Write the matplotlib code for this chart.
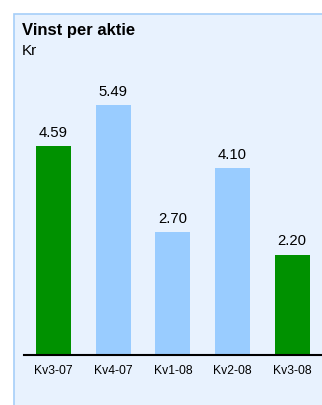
import matplotlib
matplotlib.use("Agg")
import matplotlib.pyplot as plt
from matplotlib.patches import Rectangle

categories = ["Kv3-07", "Kv4-07", "Kv1-08", "Kv2-08", "Kv3-08"]
values = [4.59, 5.49, 2.70, 4.10, 2.20]
highlight = [True, False, False, False, True]
title = "Vinst per aktie"
unit = "Kr"

plt.rcParams["font.family"] = ["Liberation Sans", "DejaVu Sans"]
W, H = 322, 406
fig = plt.figure(figsize=(W / 100, H / 100), dpi=100)
fig.patch.set_facecolor("white")

# panel background
fig.patches.append(Rectangle((13.5 / W, -0.01), 1.0, (H - 14.5) / H + 0.01,
                             transform=fig.transFigure, facecolor="#E8F2FE",
                             edgecolor="#A6CEF8", linewidth=1.2, zorder=-5))

fig.text(22 / W, 1 - 30.5 / H, title, fontsize=12, fontweight="bold",
         va="center", ha="left", color="black")
fig.text(22 / W, 1 - 51 / H, unit, fontsize=11, va="center", ha="left",
         color="black")

ax_bottom = (H - 355.7) / H
ax_top_px = 60
ax = fig.add_axes([23.7 / W, ax_bottom, (W - 23.7) / W, (355.7 - ax_top_px) / H])
ax.set_zorder(2)
ax.set_facecolor("none")
ymax = (355.7 - ax_top_px) / 45.47
x = list(range(len(categories)))
colors = ["#009100" if h else "#99CCFF" for h in highlight]
bars = ax.bar(x, values, width=0.59, color=colors, zorder=2)
for xi, v in zip(x, values):
    ax.annotate(f"{v:.2f}", (xi, v), xytext=(0, 10.2), textcoords="offset points",
                ha="center", va="center", fontsize=10.7, color="black")
ax.set_xlim(-0.5, 4.5)
ax.set_ylim(0, ymax)
ax.set_xticks(x)
ax.set_xticklabels(categories, fontsize=8.7)
ax.tick_params(axis="x", length=0, pad=7)
ax.set_yticks([])
for s in ["top", "right", "left"]:
    ax.spines[s].set_visible(False)
ax.spines["bottom"].set_linewidth(1.5)
ax.spines["bottom"].set_color("black")
ax.spines["bottom"].set_zorder(3)

fig.savefig("out.png", dpi=100)
